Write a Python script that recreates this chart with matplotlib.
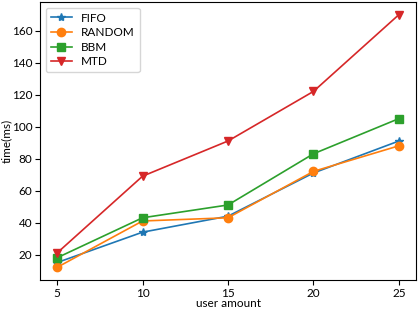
import matplotlib
matplotlib.use('Agg')
import matplotlib.pyplot as plt

# 数据
users = [5, 10, 15, 20, 25]
fifo = [15, 34, 44, 71, 91]
random_ = [12, 41, 43, 72, 88]
bbm = [18, 43, 51, 83, 105]
mtd = [21, 69, 91, 122, 170]

plt.rcParams['font.family'] = ['Lato', 'DejaVu Sans']
plt.rcParams['font.size'] = 8.5

fig = plt.figure(figsize=(4.19, 3.09), dpi=100)
ax = fig.add_subplot(111)
fig.subplots_adjust(left=40/419, right=416/419, top=1-2/309, bottom=1-280/309)

ax.plot(users, fifo, marker='*', color='tab:blue', label='FIFO', lw=1.2, ms=6)
ax.plot(users, random_, marker='o', color='tab:orange', label='RANDOM', lw=1.2, ms=6)
ax.plot(users, bbm, marker='s', color='tab:green', label='BBM', lw=1.2, ms=6)
ax.plot(users, mtd, marker='v', color='tab:red', label='MTD', lw=1.2, ms=6)

ax.set_xticks(users)
ax.tick_params(pad=2)
ax.set_xlabel('user amount')
ax.set_ylabel('time(ms)')
ax.xaxis.set_label_coords(0.5, -0.063)
ax.yaxis.set_label_coords(-0.075, 0.5)
ax.legend(loc='upper left', fontsize=8.5, handlelength=1.8, labelspacing=0.3)

plt.savefig('out.png', dpi=100)
